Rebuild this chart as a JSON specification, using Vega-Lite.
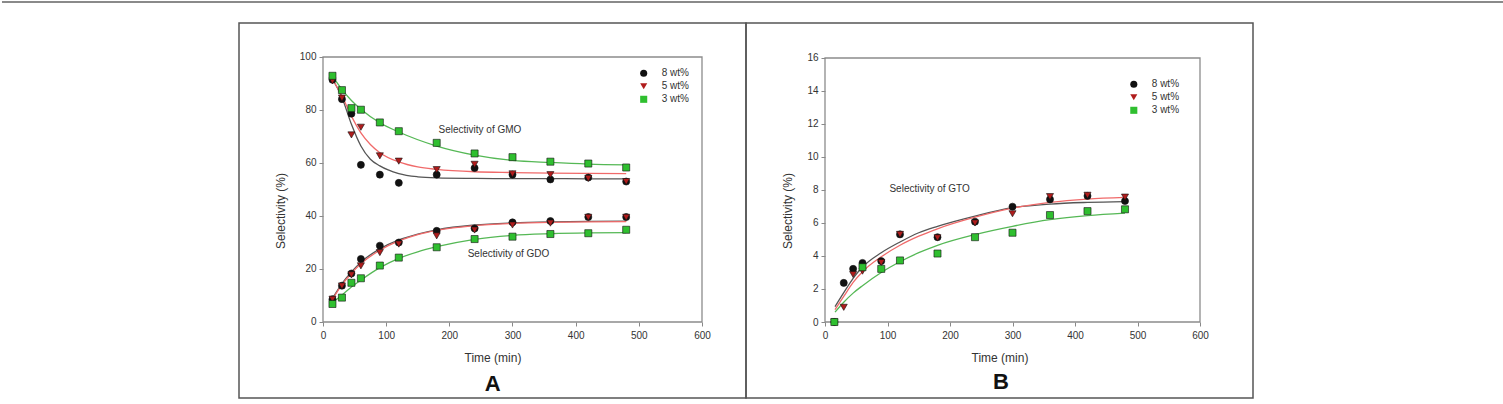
{
"$schema":"https://vega.github.io/schema/vega-lite/v6.json",
"padding":{"left":0,"top":0,"right":0,"bottom":7},
"spacing":0,
"bounds":"flush",
"datasets":{
"ptsA":[
{"product":"GMO","series":"8 wt%","t":15,"s":91.4},{"product":"GMO","series":"8 wt%","t":30,"s":84.1},{"product":"GMO","series":"8 wt%","t":45,"s":78.6},{"product":"GMO","series":"8 wt%","t":60,"s":59.3},{"product":"GMO","series":"8 wt%","t":90,"s":55.6},{"product":"GMO","series":"8 wt%","t":120,"s":52.5},{"product":"GMO","series":"8 wt%","t":180,"s":55.6},{"product":"GMO","series":"8 wt%","t":240,"s":58.1},{"product":"GMO","series":"8 wt%","t":300,"s":55.6},{"product":"GMO","series":"8 wt%","t":360,"s":53.8},{"product":"GMO","series":"8 wt%","t":420,"s":54.5},{"product":"GMO","series":"8 wt%","t":480,"s":53.0},
{"product":"GDO","series":"8 wt%","t":15,"s":8.6},{"product":"GDO","series":"8 wt%","t":30,"s":13.7},{"product":"GDO","series":"8 wt%","t":45,"s":18.3},{"product":"GDO","series":"8 wt%","t":60,"s":23.8},{"product":"GDO","series":"8 wt%","t":90,"s":28.8},{"product":"GDO","series":"8 wt%","t":120,"s":30.0},{"product":"GDO","series":"8 wt%","t":180,"s":34.4},{"product":"GDO","series":"8 wt%","t":240,"s":35.3},{"product":"GDO","series":"8 wt%","t":300,"s":37.6},{"product":"GDO","series":"8 wt%","t":360,"s":38.1},{"product":"GDO","series":"8 wt%","t":420,"s":39.6},{"product":"GDO","series":"8 wt%","t":480,"s":39.6},
{"product":"GMO","series":"5 wt%","t":15,"s":91.0},{"product":"GMO","series":"5 wt%","t":30,"s":84.5},{"product":"GMO","series":"5 wt%","t":45,"s":70.6},{"product":"GMO","series":"5 wt%","t":60,"s":73.5},{"product":"GMO","series":"5 wt%","t":90,"s":62.7},{"product":"GMO","series":"5 wt%","t":120,"s":60.7},{"product":"GMO","series":"5 wt%","t":180,"s":57.5},{"product":"GMO","series":"5 wt%","t":240,"s":59.5},{"product":"GMO","series":"5 wt%","t":300,"s":55.9},{"product":"GMO","series":"5 wt%","t":360,"s":55.6},{"product":"GMO","series":"5 wt%","t":420,"s":54.2},{"product":"GMO","series":"5 wt%","t":480,"s":53.0},
{"product":"GDO","series":"5 wt%","t":15,"s":8.6},{"product":"GDO","series":"5 wt%","t":30,"s":13.6},{"product":"GDO","series":"5 wt%","t":45,"s":17.8},{"product":"GDO","series":"5 wt%","t":60,"s":21.2},{"product":"GDO","series":"5 wt%","t":90,"s":26.2},{"product":"GDO","series":"5 wt%","t":120,"s":29.4},{"product":"GDO","series":"5 wt%","t":180,"s":32.5},{"product":"GDO","series":"5 wt%","t":240,"s":34.7},{"product":"GDO","series":"5 wt%","t":300,"s":36.6},{"product":"GDO","series":"5 wt%","t":360,"s":37.3},{"product":"GDO","series":"5 wt%","t":420,"s":39.5},{"product":"GDO","series":"5 wt%","t":480,"s":39.5},
{"product":"GMO","series":"3 wt%","t":15,"s":92.9},{"product":"GMO","series":"3 wt%","t":30,"s":87.5},{"product":"GMO","series":"3 wt%","t":45,"s":80.7},{"product":"GMO","series":"3 wt%","t":60,"s":80.1},{"product":"GMO","series":"3 wt%","t":90,"s":75.3},{"product":"GMO","series":"3 wt%","t":120,"s":72.0},{"product":"GMO","series":"3 wt%","t":180,"s":67.6},{"product":"GMO","series":"3 wt%","t":240,"s":63.6},{"product":"GMO","series":"3 wt%","t":300,"s":62.2},{"product":"GMO","series":"3 wt%","t":360,"s":60.5},{"product":"GMO","series":"3 wt%","t":420,"s":59.8},{"product":"GMO","series":"3 wt%","t":480,"s":58.3},
{"product":"GDO","series":"3 wt%","t":15,"s":6.8},{"product":"GDO","series":"3 wt%","t":30,"s":9.2},{"product":"GDO","series":"3 wt%","t":45,"s":14.8},{"product":"GDO","series":"3 wt%","t":60,"s":16.5},{"product":"GDO","series":"3 wt%","t":90,"s":21.3},{"product":"GDO","series":"3 wt%","t":120,"s":24.3},{"product":"GDO","series":"3 wt%","t":180,"s":28.2},{"product":"GDO","series":"3 wt%","t":240,"s":31.3},{"product":"GDO","series":"3 wt%","t":300,"s":32.2},{"product":"GDO","series":"3 wt%","t":360,"s":33.2},{"product":"GDO","series":"3 wt%","t":420,"s":33.5},{"product":"GDO","series":"3 wt%","t":480,"s":34.8}
],
"curA":[
{"product":"GMO","series":"8 wt%","t":15,"s":91.6},{"product":"GMO","series":"8 wt%","t":30,"s":84.7},{"product":"GMO","series":"8 wt%","t":45,"s":74.6},{"product":"GMO","series":"8 wt%","t":60,"s":66.4},{"product":"GMO","series":"8 wt%","t":75,"s":61.4},{"product":"GMO","series":"8 wt%","t":90,"s":58.9},{"product":"GMO","series":"8 wt%","t":120,"s":56.0},{"product":"GMO","series":"8 wt%","t":150,"s":54.8},{"product":"GMO","series":"8 wt%","t":180,"s":54.4},{"product":"GMO","series":"8 wt%","t":240,"s":54.2},{"product":"GMO","series":"8 wt%","t":300,"s":54.1},{"product":"GMO","series":"8 wt%","t":360,"s":54.1},{"product":"GMO","series":"8 wt%","t":420,"s":54.0},{"product":"GMO","series":"8 wt%","t":480,"s":54.0},
{"product":"GMO","series":"5 wt%","t":15,"s":91.6},{"product":"GMO","series":"5 wt%","t":30,"s":85.3},{"product":"GMO","series":"5 wt%","t":45,"s":77.7},{"product":"GMO","series":"5 wt%","t":60,"s":71.4},{"product":"GMO","series":"5 wt%","t":75,"s":67.0},{"product":"GMO","series":"5 wt%","t":90,"s":63.9},{"product":"GMO","series":"5 wt%","t":120,"s":60.4},{"product":"GMO","series":"5 wt%","t":150,"s":58.5},{"product":"GMO","series":"5 wt%","t":180,"s":57.6},{"product":"GMO","series":"5 wt%","t":240,"s":56.7},{"product":"GMO","series":"5 wt%","t":300,"s":56.4},{"product":"GMO","series":"5 wt%","t":360,"s":56.2},{"product":"GMO","series":"5 wt%","t":420,"s":56.1},{"product":"GMO","series":"5 wt%","t":480,"s":56.0},
{"product":"GMO","series":"3 wt%","t":15,"s":92.8},{"product":"GMO","series":"3 wt%","t":30,"s":87.8},{"product":"GMO","series":"3 wt%","t":45,"s":83.6},{"product":"GMO","series":"3 wt%","t":60,"s":80.3},{"product":"GMO","series":"3 wt%","t":90,"s":75.2},{"product":"GMO","series":"3 wt%","t":120,"s":71.7},{"product":"GMO","series":"3 wt%","t":180,"s":66.4},{"product":"GMO","series":"3 wt%","t":240,"s":63.0},{"product":"GMO","series":"3 wt%","t":300,"s":61.0},{"product":"GMO","series":"3 wt%","t":360,"s":60.2},{"product":"GMO","series":"3 wt%","t":420,"s":59.6},{"product":"GMO","series":"3 wt%","t":480,"s":59.3},
{"product":"GDO","series":"8 wt%","t":15,"s":8.9},{"product":"GDO","series":"8 wt%","t":30,"s":14.5},{"product":"GDO","series":"8 wt%","t":45,"s":18.9},{"product":"GDO","series":"8 wt%","t":60,"s":22.6},{"product":"GDO","series":"8 wt%","t":90,"s":27.6},{"product":"GDO","series":"8 wt%","t":120,"s":31.0},{"product":"GDO","series":"8 wt%","t":150,"s":33.2},{"product":"GDO","series":"8 wt%","t":180,"s":34.8},{"product":"GDO","series":"8 wt%","t":240,"s":36.6},{"product":"GDO","series":"8 wt%","t":300,"s":37.4},{"product":"GDO","series":"8 wt%","t":360,"s":37.8},{"product":"GDO","series":"8 wt%","t":420,"s":38.0},{"product":"GDO","series":"8 wt%","t":480,"s":38.1},
{"product":"GDO","series":"5 wt%","t":15,"s":8.6},{"product":"GDO","series":"5 wt%","t":30,"s":14.0},{"product":"GDO","series":"5 wt%","t":45,"s":18.4},{"product":"GDO","series":"5 wt%","t":60,"s":22.0},{"product":"GDO","series":"5 wt%","t":90,"s":27.1},{"product":"GDO","series":"5 wt%","t":120,"s":30.6},{"product":"GDO","series":"5 wt%","t":150,"s":33.0},{"product":"GDO","series":"5 wt%","t":180,"s":34.6},{"product":"GDO","series":"5 wt%","t":240,"s":36.4},{"product":"GDO","series":"5 wt%","t":300,"s":37.2},{"product":"GDO","series":"5 wt%","t":360,"s":37.6},{"product":"GDO","series":"5 wt%","t":420,"s":37.8},{"product":"GDO","series":"5 wt%","t":480,"s":37.9},
{"product":"GDO","series":"3 wt%","t":15,"s":7.3},{"product":"GDO","series":"3 wt%","t":30,"s":10.2},{"product":"GDO","series":"3 wt%","t":45,"s":13.2},{"product":"GDO","series":"3 wt%","t":60,"s":15.8},{"product":"GDO","series":"3 wt%","t":90,"s":20.5},{"product":"GDO","series":"3 wt%","t":120,"s":24.0},{"product":"GDO","series":"3 wt%","t":150,"s":26.5},{"product":"GDO","series":"3 wt%","t":180,"s":28.4},{"product":"GDO","series":"3 wt%","t":240,"s":31.2},{"product":"GDO","series":"3 wt%","t":300,"s":32.7},{"product":"GDO","series":"3 wt%","t":360,"s":33.3},{"product":"GDO","series":"3 wt%","t":420,"s":33.6},{"product":"GDO","series":"3 wt%","t":480,"s":33.7}
],
"ptsB":[
{"series":"8 wt%","t":15,"s":0},{"series":"8 wt%","t":30,"s":2.37},{"series":"8 wt%","t":45,"s":3.22},{"series":"8 wt%","t":60,"s":3.58},{"series":"8 wt%","t":90,"s":3.69},{"series":"8 wt%","t":120,"s":5.31},{"series":"8 wt%","t":180,"s":5.14},{"series":"8 wt%","t":240,"s":6.08},{"series":"8 wt%","t":300,"s":6.99},{"series":"8 wt%","t":360,"s":7.43},{"series":"8 wt%","t":420,"s":7.64},{"series":"8 wt%","t":480,"s":7.33},
{"series":"5 wt%","t":15,"s":0},{"series":"5 wt%","t":30,"s":0.89},{"series":"5 wt%","t":45,"s":2.88},{"series":"5 wt%","t":60,"s":3.08},{"series":"5 wt%","t":90,"s":3.6},{"series":"5 wt%","t":120,"s":5.31},{"series":"5 wt%","t":180,"s":5.1},{"series":"5 wt%","t":240,"s":6.0},{"series":"5 wt%","t":300,"s":6.56},{"series":"5 wt%","t":360,"s":7.6},{"series":"5 wt%","t":420,"s":7.68},{"series":"5 wt%","t":480,"s":7.57},
{"series":"3 wt%","t":15,"s":0},{"series":"3 wt%","t":60,"s":3.32},{"series":"3 wt%","t":90,"s":3.22},{"series":"3 wt%","t":120,"s":3.73},{"series":"3 wt%","t":180,"s":4.15},{"series":"3 wt%","t":240,"s":5.14},{"series":"3 wt%","t":300,"s":5.41},{"series":"3 wt%","t":360,"s":6.48},{"series":"3 wt%","t":420,"s":6.72},{"series":"3 wt%","t":480,"s":6.83}
],
"curB":[
{"series":"8 wt%","t":16,"s":0.93},{"series":"8 wt%","t":30,"s":1.78},{"series":"8 wt%","t":45,"s":2.65},{"series":"8 wt%","t":60,"s":3.33},{"series":"8 wt%","t":90,"s":4.2},{"series":"8 wt%","t":120,"s":4.85},{"series":"8 wt%","t":150,"s":5.41},{"series":"8 wt%","t":180,"s":5.8},{"series":"8 wt%","t":240,"s":6.42},{"series":"8 wt%","t":300,"s":6.93},{"series":"8 wt%","t":360,"s":7.15},{"series":"8 wt%","t":420,"s":7.25},{"series":"8 wt%","t":480,"s":7.3},
{"series":"5 wt%","t":16,"s":0.75},{"series":"5 wt%","t":30,"s":1.55},{"series":"5 wt%","t":45,"s":2.4},{"series":"5 wt%","t":60,"s":3.05},{"series":"5 wt%","t":90,"s":3.95},{"series":"5 wt%","t":120,"s":4.65},{"series":"5 wt%","t":150,"s":5.2},{"series":"5 wt%","t":180,"s":5.65},{"series":"5 wt%","t":240,"s":6.35},{"series":"5 wt%","t":300,"s":6.9},{"series":"5 wt%","t":360,"s":7.25},{"series":"5 wt%","t":420,"s":7.45},{"series":"5 wt%","t":480,"s":7.55},
{"series":"3 wt%","t":16,"s":0.6},{"series":"3 wt%","t":30,"s":1.2},{"series":"3 wt%","t":45,"s":1.75},{"series":"3 wt%","t":60,"s":2.2},{"series":"3 wt%","t":90,"s":3.0},{"series":"3 wt%","t":120,"s":3.65},{"series":"3 wt%","t":150,"s":4.2},{"series":"3 wt%","t":180,"s":4.65},{"series":"3 wt%","t":240,"s":5.3},{"series":"3 wt%","t":300,"s":5.8},{"series":"3 wt%","t":360,"s":6.2},{"series":"3 wt%","t":420,"s":6.45},{"series":"3 wt%","t":480,"s":6.6}
]
},
"hconcat":[
{
"width":507,"height":375,
"layer":[
{"data":{"values":[{}]},"mark":{"type":"rule","stroke":"#8a8a8a","strokeWidth":2,"clip":false},"encoding":{"x":{"datum":-508.2,"type":"quantitative"},"x2":{"datum":1868.1},"y":{"datum":120.75,"type":"quantitative"}}},
{"data":{"values":[{}]},"mark":{"type":"rect","fillOpacity":0,"stroke":"#8c8c8c","strokeWidth":1.3},"encoding":{"x":{"datum":0,"type":"quantitative"},"x2":{"datum":600},"y":{"datum":0,"type":"quantitative"},"y2":{"datum":100}}},
{"data":{"name":"curA"},"mark":{"type":"line","interpolate":"monotone","strokeWidth":1.3},
"encoding":{"x":{"field":"t","type":"quantitative"},"y":{"field":"s","type":"quantitative"},
"stroke":{"field":"series","type":"nominal","scale":{"domain":["3 wt%","5 wt%","8 wt%"],"range":["#55b855","#f06a6a","#555555"]},"legend":null},
"detail":{"field":"product"}}},
{"data":{"name":"ptsA"},"mark":{"type":"point","filled":true,"stroke":"#111111","strokeWidth":0.6,"size":50,"opacity":1},
"encoding":{
"x":{"field":"t","type":"quantitative","scale":{"domain":[-132.98,669.66],"nice":false,"zero":false},"axis":{"values":[0,100,200,300,400,500,600],"offset":-76,"title":"Time (min)"}},
"y":{"field":"s","type":"quantitative","scale":{"domain":[-28.68,112.83],"nice":false,"zero":false},"axis":{"values":[0,20,40,60,80,100],"offset":-84,"title":"Selectivity (%)"}},
"fill":{"field":"series","type":"nominal","scale":{"domain":["8 wt%","5 wt%","3 wt%"],"range":["#111111","#b01c1c","#2fbf2f"]},"legend":{"title":null,"orient":"none","legendX":399.7,"legendY":45.3}},
"shape":{"field":"series","type":"nominal","scale":{"domain":["8 wt%","5 wt%","3 wt%"],"range":["circle","triangle-down","square"]},"legend":{"title":null,"orient":"none","legendX":399.7,"legendY":45.3}}
}},
{"data":{"values":[{}]},"mark":{"type":"text","fontSize":10,"color":"#333333"},"encoding":{"x":{"datum":248.5,"type":"quantitative"},"y":{"datum":72.3,"type":"quantitative"},"text":{"value":"Selectivity of GMO"}}},
{"data":{"values":[{}]},"mark":{"type":"text","fontSize":10,"color":"#333333"},"encoding":{"x":{"datum":293.7,"type":"quantitative"},"y":{"datum":25.5,"type":"quantitative"},"text":{"value":"Selectivity of GDO"}}},
{"data":{"values":[{}]},"mark":{"type":"text","fontSize":22,"fontWeight":"bold","color":"#111111"},"encoding":{"x":{"datum":268.7,"type":"quantitative"},"y":{"datum":-23.4,"type":"quantitative"},"text":{"value":"A"}}}
]
},
{
"width":507,"height":375,
"layer":[
{"data":{"values":[{}]},"mark":{"type":"rect","fillOpacity":0,"stroke":"#8c8c8c","strokeWidth":1.3},"encoding":{"x":{"datum":0,"type":"quantitative"},"x2":{"datum":600},"y":{"datum":0,"type":"quantitative"},"y2":{"datum":16}}},
{"data":{"name":"curB"},"mark":{"type":"line","interpolate":"monotone","strokeWidth":1.3},
"encoding":{"x":{"field":"t","type":"quantitative"},"y":{"field":"s","type":"quantitative"},
"stroke":{"field":"series","type":"nominal","scale":{"domain":["3 wt%","5 wt%","8 wt%"],"range":["#55b855","#f06a6a","#555555"]},"legend":null}}},
{"data":{"name":"ptsB"},"mark":{"type":"point","filled":true,"stroke":"#111111","strokeWidth":0.6,"size":50,"opacity":1},
"encoding":{
"x":{"field":"t","type":"quantitative","scale":{"domain":[-126.4,684.8],"nice":false,"zero":false},"axis":{"values":[0,100,200,300,400,500,600],"offset":-76,"title":"Time (min)"}},
"y":{"field":"s","type":"quantitative","scale":{"domain":[-4.606,18.121],"nice":false,"zero":false},"axis":{"values":[0,2,4,6,8,10,12,14,16],"offset":-79,"title":"Selectivity (%)"}},
"fill":{"field":"series","type":"nominal","scale":{"domain":["8 wt%","5 wt%","3 wt%"],"range":["#111111","#b01c1c","#2fbf2f"]},"legend":{"title":null,"orient":"none","legendX":382.8,"legendY":56.3}},
"shape":{"field":"series","type":"nominal","scale":{"domain":["8 wt%","5 wt%","3 wt%"],"range":["circle","triangle-down","square"]},"legend":{"title":null,"orient":"none","legendX":382.8,"legendY":56.3}}
}},
{"data":{"values":[{}]},"mark":{"type":"text","fontSize":10,"color":"#333333"},"encoding":{"x":{"datum":167.4,"type":"quantitative"},"y":{"datum":8.08,"type":"quantitative"},"text":{"value":"Selectivity of GTO"}}},
{"data":{"values":[{}]},"mark":{"type":"text","fontSize":22,"fontWeight":"bold","color":"#111111"},"encoding":{"x":{"datum":281.6,"type":"quantitative"},"y":{"datum":-3.62,"type":"quantitative"},"text":{"value":"B"}}}
]
}
],
"resolve":{"scale":{"x":"independent","y":"independent","fill":"independent","shape":"independent","stroke":"independent"},"legend":{"fill":"independent","shape":"independent"}},
"config":{
"font":"Liberation Sans",
"view":{"stroke":"#555555","strokeWidth":1.5},
"axis":{"domain":false,"grid":false,"ticks":true,"tickColor":"#888888","tickSize":4,"tickWidth":1,"labelFontSize":10,"labelColor":"#333333","labelFlush":false,"labelBound":false,"labelOverlap":false,"titleFontSize":12,"titleFontWeight":"normal","titleColor":"#333333","titlePadding":12},
"axisX":{"labelPadding":4},
"axisY":{"labelPadding":3},
"legend":{"labelFontSize":10,"labelColor":"#333333","symbolSize":50,"rowPadding":3,"labelOffset":13,"padding":0,"symbolStrokeWidth":0}
}
}
